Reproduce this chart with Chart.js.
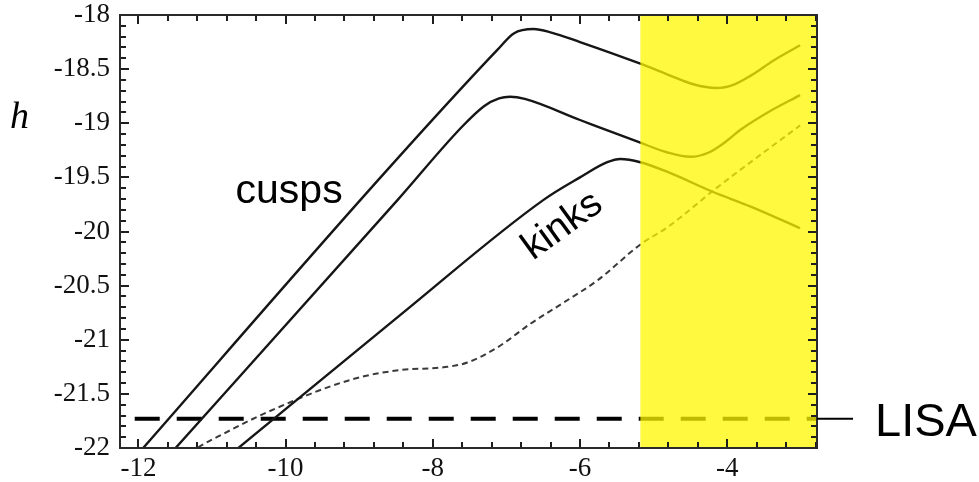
<!DOCTYPE html>
<html>
<head>
<meta charset="utf-8">
<script src="https://cdn.jsdelivr.net/npm/chart.js@4.4.1/dist/chart.umd.min.js"></script>
<style>
  html, body { margin: 0; padding: 0; background: #fff; }
  #wrap { width: 979px; height: 482px; }
</style>
</head>
<body>
<div id="wrap"><canvas id="chart" width="979" height="482"></canvas></div>
<script>
// eixos
const xMin = -12.25, xMax = -2.78;
const yMin = -22, yMax = -18;
const xTicks = [-12, -10, -8, -6, -4];
const xTickLabels = ['-12', '-10', '-8', '-6', '-4'];
const yTicks = [-22, -21.5, -21, -20.5, -20, -19.5, -19, -18.5, -18];
const yTickLabels = ['-22', '-21.5', '-21', '-20.5', '-20', '-19.5', '-19', '-18.5', '-18'];
const xMinorStep = 0.4, yMinorStep = 0.1;

// cusps (curva de cima)
const cuspTopX = [-12.0, -8.71, -7.12, -6.9, -6.63, -6.4, -6.0, -5.18, -4.81, -4.46, -4.15, -3.9, -3.68, -3.37, -3.01];
const cuspTopY = [-22.05, -19.5, -18.32, -18.17, -18.13, -18.16, -18.25, -18.45, -18.55, -18.64, -18.675, -18.64, -18.56, -18.42, -18.28];

// cusps (segunda curva)
const cuspMidX = [-11.6, -8.48, -7.6, -7.3, -7.1, -6.95, -6.75, -6.0, -5.18, -4.81, -4.5, -4.25, -4.0, -3.82, -3.45, -3.01];
const cuspMidY = [-22.08, -19.71, -19.03, -18.84, -18.77, -18.755, -18.775, -18.97, -19.18, -19.27, -19.31, -19.27, -19.16, -19.06, -18.9, -18.74];

// kinks
const kinkX = [-10.75, -8.44, -6.5, -6.0, -5.63, -5.45, -5.18, -4.81, -4.19, -3.68, -3.01];
const kinkY = [-22.06, -20.77, -19.71, -19.5, -19.36, -19.33, -19.36, -19.45, -19.635, -19.77, -19.97];

// curva tracejada
const dashX = [-11.3, -11.2, -10.82, -10.44, -9.93, -9.39, -8.92, -8.44, -7.8, -7.53, -7.12, -6.67, -6.23, -5.76, -5.18, -4.81, -4.13, -3.01];
const dashY = [-22.05, -22.0, -21.86, -21.73, -21.575, -21.43, -21.335, -21.28, -21.25, -21.21, -21.07, -20.85, -20.66, -20.45, -20.12, -19.96, -19.59, -19.02];

// LISA
const lisaLevel = -21.73;
const lisaX = [-12.05, -2.78];
const yellowStart = -5.18;

const toPoints = (xs, ys) => xs.map((x, i) => ({ x: x, y: ys[i] }));

const curveStyle = {
  showLine: true,
  pointRadius: 0,
  borderColor: '#161616',
  borderWidth: 2.4,
  cubicInterpolationMode: 'monotone',
  clip: 0
};

// ticks para dentro nos quatro lados (estilo Mathematica)
function drawTicks(ctx, chart) {
  const area = chart.chartArea;
  const sx = chart.scales.x, sy = chart.scales.y;
  const nx = Math.round((xMax - xTicks[0]) / xMinorStep);
  const ny = Math.round((yMax - yMin) / yMinorStep);
  ctx.fillStyle = '#1e1e1e';
  for (let i = 0; i <= nx; i++) {
    const px = Math.round(sx.getPixelForValue(xTicks[0] + i * xMinorStep));
    const len = (i % 5 === 0) ? 9 : 6;
    ctx.fillRect(px - 1, area.bottom - len, 2, len);
    ctx.fillRect(px - 1, area.top, 2, len);
  }
  for (let i = 0; i <= ny; i++) {
    const py = Math.round(sy.getPixelForValue(yMin + i * yMinorStep));
    const len = (i % 5 === 0) ? 9 : 6;
    ctx.fillRect(area.left, py - 1, len, 2);
    ctx.fillRect(area.right - len, py - 1, len, 2);
  }
}

const overlayPlugin = {
  id: 'overlay',
  afterDatasetsDraw(chart) {
    const { ctx, chartArea, scales } = chart;
    const x0 = scales.x.getPixelForValue(yellowStart);
    ctx.save();
    ctx.fillStyle = 'rgba(255, 248, 0, 0.75)';
    ctx.fillRect(x0, chartArea.top, chartArea.right - x0, chartArea.bottom - chartArea.top);
    ctx.restore();
  },
  afterDraw(chart) {
    const { ctx, chartArea, scales } = chart;
    const { left, right, top, bottom } = chartArea;
    ctx.save();
    ctx.setLineDash([]);

    drawTicks(ctx, chart);

    // moldura
    ctx.strokeStyle = '#2a2a2a';
    ctx.lineWidth = 2;
    ctx.strokeRect(left, top, right - left, bottom - top);

    // ligação até o texto LISA
    const ly = scales.y.getPixelForValue(lisaLevel);
    ctx.strokeStyle = '#000';
    ctx.lineWidth = 2;
    ctx.beginPath();
    ctx.moveTo(right, ly);
    ctx.lineTo(right + 36, ly);
    ctx.stroke();

    ctx.fillStyle = '#000';
    ctx.textBaseline = 'alphabetic';
    ctx.textAlign = 'left';
    ctx.font = '47px "Liberation Sans", Arial, sans-serif';
    ctx.fillText('LISA', right + 58, ly + 17);

    ctx.font = '41px "Liberation Sans", Arial, sans-serif';
    ctx.fillText('cusps', scales.x.getPixelForValue(-10.68), scales.y.getPixelForValue(-19.74));

    ctx.save();
    ctx.translate(scales.x.getPixelForValue(-6.64), scales.y.getPixelForValue(-20.27));
    ctx.rotate(-36 * Math.PI / 180);
    ctx.font = '39px "Liberation Sans", Arial, sans-serif';
    ctx.fillText('kinks', 0, 0);
    ctx.restore();

    ctx.font = 'italic 38px "Liberation Serif", "Times New Roman", serif';
    ctx.fillText('h', 10, 128);

    ctx.restore();
  }
};

const tickFont = { family: '"Liberation Serif", "Times New Roman", serif', size: 27, lineHeight: 1 };

new Chart(document.getElementById('chart'), {
  type: 'scatter',
  data: {
    datasets: [
      Object.assign({ label: 'cusps 1', data: toPoints(cuspTopX, cuspTopY) }, curveStyle),
      Object.assign({ label: 'cusps 2', data: toPoints(cuspMidX, cuspMidY) }, curveStyle),
      Object.assign({ label: 'kinks', data: toPoints(kinkX, kinkY) }, curveStyle),
      Object.assign({ label: 'tracejada', data: toPoints(dashX, dashY) }, curveStyle,
        { borderColor: '#3a3a3a', borderWidth: 2, borderDash: [6, 4] }),
      {
        label: 'LISA',
        data: lisaX.map(x => ({ x: x, y: lisaLevel })),
        showLine: true,
        pointRadius: 0,
        borderColor: '#000',
        borderWidth: 4,
        borderDash: [25, 17],
        clip: 0
      }
    ]
  },
  options: {
    responsive: false,
    animation: false,
    events: [],
    layout: { padding: { left: 0, right: 162, top: 15, bottom: 0 } },
    plugins: { legend: { display: false }, tooltip: { enabled: false } },
    scales: {
      x: {
        type: 'linear',
        min: xMin,
        max: xMax,
        grid: { display: false, drawTicks: false },
        border: { display: false },
        afterBuildTicks: s => { s.ticks = xTicks.map(v => ({ value: v })); },
        afterFit: s => { s.height = 34; s.paddingLeft = 0; s.paddingRight = 0; },
        ticks: {
          font: tickFont,
          color: '#111',
          padding: 7,
          maxRotation: 0,
          autoSkip: false,
          callback: v => xTickLabels[xTicks.indexOf(v)]
        }
      },
      y: {
        type: 'linear',
        min: yMin,
        max: yMax,
        grid: { display: false, drawTicks: false },
        border: { display: false },
        afterBuildTicks: s => { s.ticks = yTicks.map(v => ({ value: v })); },
        afterFit: s => { s.width = 120; s.paddingTop = 0; s.paddingBottom = 0; },
        ticks: {
          font: tickFont,
          color: '#111',
          padding: 10,
          autoSkip: false,
          callback: v => yTickLabels[yTicks.indexOf(v)]
        }
      }
    }
  },
  plugins: [overlayPlugin]
});
</script>
</body>
</html>
